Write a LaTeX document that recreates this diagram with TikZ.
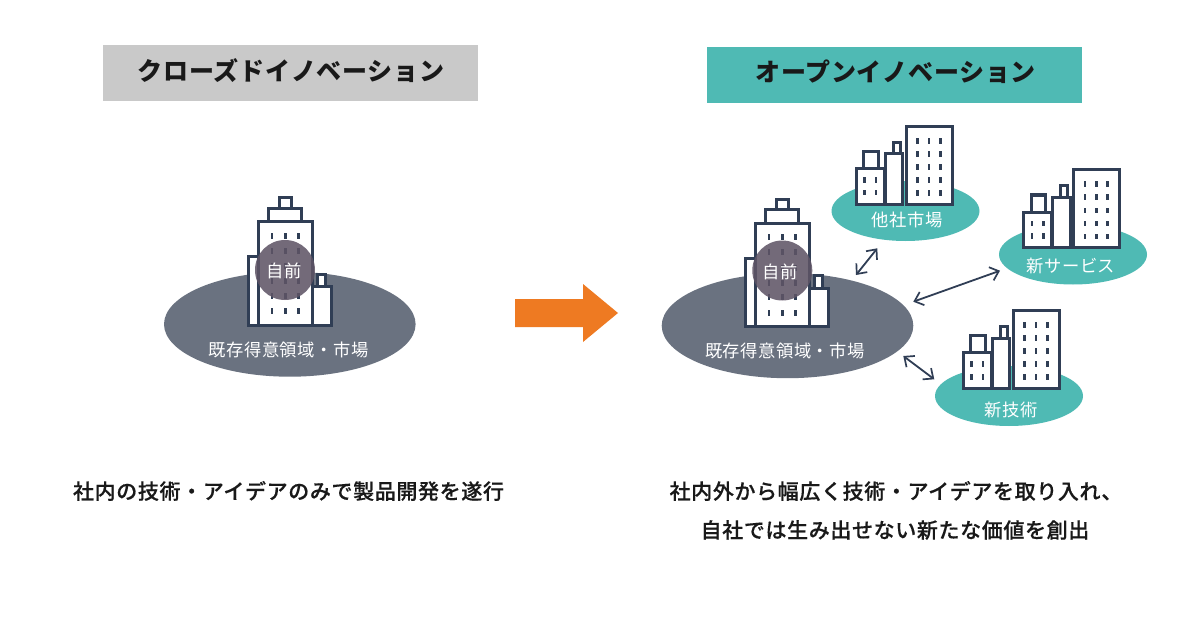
\documentclass[tikz,border=0pt]{standalone}
\usepackage{fontspec}
\usetikzlibrary{arrows.meta}
\newfontfamily\jpsp[LetterSpace=3,BoldFont={Noto Sans CJK JP Medium},BoldFeatures={FakeBold=0.4}]{Noto Sans CJK JP}
\newfontfamily\jphead[LetterSpace=3]{Noto Sans CJK JP}
\newfontfamily\jplab[LetterSpace=3]{Noto Sans CJK JP}
\definecolor{slate}{HTML}{303E55}
\definecolor{oval}{HTML}{6A7280}
\definecolor{teal1}{HTML}{4FBAB4}
\definecolor{greyhead}{HTML}{C9C9C9}
\definecolor{orange1}{HTML}{EE7A22}
\definecolor{self}{HTML}{5F5466}
\tikzset{
  bld/.style={draw=slate,fill=white,line width=3pt,line join=miter},
  win/.style={fill=slate,draw=none},
  head/.style={text=black!90,font=\jphead\bfseries\fontsize{25}{30}\selectfont,inner sep=0pt},
  body/.style={text=black!90,font=\jpsp\bfseries\fontsize{21}{25}\selectfont,inner sep=0pt},
  lab/.style={text=white,font=\jplab\fontsize{17.3}{21}\selectfont,inner sep=0pt},
  link/.style={draw=slate,line width=1.8pt,{Straight Barb[length=8pt,width=14pt,line width=1.7pt]}-{Straight Barb[length=8pt,width=14pt,line width=1.7pt]}},
  plate/.style={fill=oval,draw=none},
  tealplate/.style={fill=teal1,draw=none},
}
\newcommand{\towerbld}[2]{%
\begin{scope}[shift={(#1,#2)}]
  \draw[bld] (248.3,256.7) rectangle (258.7,325);
  \draw[bld] (317.7,274.3) rectangle (325,286.7);
  \draw[bld] (312.3,286.7) rectangle (331.7,325);
  \draw[bld] (279.3,197.7) rectangle (291.7,208);
  \draw[bld] (268.7,208) rectangle (301.7,221.7);
  \draw[bld] (258.7,221.7) rectangle (312.3,325);
  \foreach \x in {272,285.3,298.3}
    \foreach \y in {235.7,250.7,266,281,295.7,311}
      \fill[win] (\x-1.3,\y-3) rectangle (\x+1.3,\y+3);
\end{scope}}
\newcommand{\citybld}[2]{%
\begin{scope}[shift={(#1,#2)}]
  \draw[bld] (863.7,151.7) rectangle (878,168.7);
  \draw[bld] (856.3,168.7) rectangle (884,204.3);
  \draw[bld] (893,142.7) rectangle (900,154);
  \draw[bld] (885,154) rectangle (902.7,204.3);
  \draw[bld] (906,126.7) rectangle (952.3,204.3);
  \foreach \x in {917.7,929,940.3}
    \foreach \y in {141,154,167,180,193}
      \fill[win] (\x-1.4,\y-2.8) rectangle (\x+1.4,\y+2.8);
  \foreach \x in {864.7,876}
    \foreach \y in {180,192.7}
      \fill[win] (\x-1.4,\y-2.8) rectangle (\x+1.4,\y+2.8);
\end{scope}}
\begin{document}
\begin{tikzpicture}[x=1pt,y=-1pt]
\useasboundingbox (0,0) rectangle (1200,623);
\fill[white] (0,0) rectangle (1200,623);
% headers
\fill[greyhead] (103,45) rectangle (478,101);
\fill[teal1] (707,47) rectangle (1082,103);
\node[head] (h1) at (291,71) {クローズドイノベーション};
\node[head] (h2) at (895.5,72) {オープンイノベーション};
% left group
\fill[plate] (289.8,324.2) ellipse [x radius=125.8,y radius=52.5];
\towerbld{0}{0}
\fill[self,opacity=.87] (285,270) circle (30);
\node[lab] (a1) at (284,270.5) {自前};
\node[lab] (a2) at (288.5,349.5) {既存得意領域・市場};
% centre arrow
\fill[orange1] (515,299) -- (583,299) -- (583,284) -- (618,313) -- (583,342) -- (583,327) -- (515,327) -- cycle;
% right group
\fill[plate] (787.5,325.7) ellipse [x radius=125.8,y radius=52.5];
\towerbld{497}{1.5}
\fill[self,opacity=.87] (782.3,270.5) circle (30);
\node[lab] (b1) at (780.5,271.5) {自前};
\node[lab] (b2) at (785,351) {既存得意領域・市場};
\fill[tealplate] (905.5,211) ellipse [x radius=74,y radius=30];
\citybld{0}{0}
\node[lab] (c1) at (907,220) {他社市場};
\fill[tealplate] (1073,254.5) ellipse [x radius=74,y radius=30];
\citybld{167.3}{43.3}
\node[lab] (c2) at (1071,265.5) {新サービス};
\fill[tealplate] (1009,396) ellipse [x radius=74,y radius=30];
\citybld{107}{184}
\node[lab] (c3) at (1011,410) {新技術};
% links
\coordinate (l1a) at (856,275);
\coordinate (l1b) at (877.3,248.3);
\coordinate (l2a) at (913.3,301.7);
\coordinate (l2b) at (1000,270.7);
\coordinate (l3a) at (903.3,356);
\coordinate (l3b) at (934.3,379.3);
\draw[link] (l1a) -- (l1b);
\draw[link] (l2a) -- (l2b);
\draw[link] (l3a) -- (l3b);
% captions
\node[body] (t1) at (288.5,491) {社内の技術・アイデアのみで製品開発を遂行};
\node[body] (t2) at (896,491) {社内外から幅広く技術・アイデアを取り入れ、};
\node[body] (t3) at (895,530) {自社では生み出せない新たな価値を創出};
\end{tikzpicture}
\end{document}
